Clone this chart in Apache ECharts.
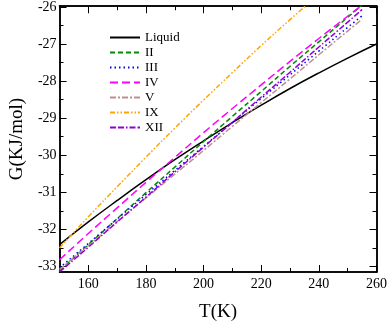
<!DOCTYPE html>
<html>
<head>
<meta charset="utf-8">
<script src="https://cdn.jsdelivr.net/npm/echarts@6/dist/echarts.min.js"></script>
<style>
  html, body { margin: 0; padding: 0; background: #fff; }
  #chart-container { width: 390px; height: 327px; }
</style>
</head>
<body>
<div id="chart-container"></div>
<script>
var dom = document.getElementById("chart-container");
var myChart = echarts.init(dom, null, { renderer: "canvas" });

// temperatures (K)
const liquidTemps = [150, 160, 170, 180, 190, 200, 210, 220, 230, 240, 250, 260];
const solidTemps = [150, 160, 170, 180, 190, 200, 210, 220, 230, 240, 250, 255];

// G (kJ/mol)
const liquidG = [-32.41, -31.80, -31.22, -30.66, -30.12, -29.61, -29.12, -28.65, -28.20, -27.78, -27.38, -27.00];
const iiG = [-33.12, -32.41, -31.71, -31.01, -30.32, -29.63, -28.95, -28.28, -27.60, -26.94, -26.28, -25.95];
const iiiG = [-33.04, -32.38, -31.72, -31.06, -30.41, -29.76, -29.11, -28.47, -27.83, -27.19, -26.55, -26.24];
const ivG = [-32.82, -32.11, -31.42, -30.73, -30.06, -29.39, -28.74, -28.10, -27.47, -26.85, -26.25, -25.95];
const vG = [-33.08, -32.44, -31.79, -31.15, -30.51, -29.87, -29.22, -28.58, -27.94, -27.29, -26.65, -26.33];
const ixG = [-32.50, -31.66, -30.85, -30.05, -29.27, -28.51, -27.77, -27.04, -26.34, -25.66, -24.99, -24.66];
const xiiG = [-33.15, -32.48, -31.80, -31.13, -30.45, -29.78, -29.11, -28.43, -27.76, -27.08, -26.41, -26.07];

// tick positions
const xMajor = [160, 180, 200, 220, 240, 260];
const xMinor = [170, 190, 210, 230, 250];
const yMajor = [-33, -32, -31, -30, -29, -28, -27, -26];
const yMinor = [-32.5, -31.5, -30.5, -29.5, -28.5, -27.5, -26.5];

const FONT = "Liberation Serif";

function pairs(xs, ys) {
  return xs.map(function (x, i) {
    return [x, ys[i]];
  });
}

function tickAxis(pos, ticks, len, isX, withLabel) {
  var ax = {
    type: "value",
    position: pos,
    min: isX ? 150 : -33.15,
    max: isX ? 260 : -25.98,
    splitLine: { show: false },
    axisLine: { show: true, lineStyle: { color: "#000", width: 1.5 } },
    axisTick: {
      show: true,
      inside: true,
      length: len,
      customValues: ticks,
      lineStyle: { color: "#000", width: 1 },
    },
    axisLabel: { show: false },
  };
  if (withLabel) {
    ax.axisLabel = {
      show: true,
      customValues: ticks,
      color: "#000",
      fontFamily: FONT,
      fontSize: 14,
      margin: isX ? 5 : 3,
    };
  }
  return ax;
}

var series = [
  { name: "Liquid", data: pairs(liquidTemps, liquidG), color: "#000000", type: "solid" },
  { name: "II", data: pairs(solidTemps, iiG), color: "#008b00", type: [5, 3] },
  { name: "III", data: pairs(solidTemps, iiiG), color: "#0000ff", type: [1.5, 3] },
  { name: "IV", data: pairs(solidTemps, ivG), color: "#ff00ff", type: [8, 4] },
  { name: "V", data: pairs(solidTemps, vG), color: "#bc8f8f", type: [6, 2, 2, 2] },
  { name: "IX", data: pairs(solidTemps, ixG), color: "#ffa500", type: [5, 2, 1.5, 2, 1.5, 2] },
  { name: "XII", data: pairs(solidTemps, xiiG), color: "#9400d3", type: [6, 2, 6, 2, 1.5, 2] },
].map(function (s) {
  return {
    name: s.name,
    type: "line",
    data: s.data,
    smooth: true,
    symbol: "none",
    clip: true,
    color: s.color,
    lineStyle: { color: s.color, width: 1.5, type: s.type },
    xAxisIndex: 0,
    yAxisIndex: 0,
  };
});

var option = {
  backgroundColor: "#ffffff",
  animation: false,
  grid: { left: 42, right: 11, top: 4, bottom: 41 },
  legend: {
    orient: "vertical",
    left: 104,
    top: 26,
    itemWidth: 30,
    itemHeight: 10,
    itemGap: 2,
    itemStyle: { opacity: 0 },
    textStyle: { fontFamily: FONT, fontSize: 13, lineHeight: 12, color: "#000" },
    data: ["Liquid", "II", "III", "IV", "V", "IX", "XII"],
  },
  xAxis: [
    Object.assign(tickAxis("bottom", xMajor, 7, true, true), {
      name: "T(K)",
      nameLocation: "middle",
      nameGap: 31,
      nameTextStyle: { fontFamily: FONT, fontSize: 19, color: "#000" },
    }),
    tickAxis("bottom", xMinor, 4, true, false),
    tickAxis("top", xMajor, 7, true, false),
    tickAxis("top", xMinor, 4, true, false),
  ],
  yAxis: [
    Object.assign(tickAxis("left", yMajor, 7, false, true), {
      name: "G(KJ/mol)",
      nameLocation: "middle",
      nameGap: 30,
      nameRotate: 90,
      nameTextStyle: { fontFamily: FONT, fontSize: 19, color: "#000" },
    }),
    tickAxis("left", yMinor, 4, false, false),
    tickAxis("right", yMajor, 7, false, false),
    tickAxis("right", yMinor, 4, false, false),
  ],
  series: series,
};

myChart.setOption(option);
window.addEventListener("resize", myChart.resize);
</script>
</body>
</html>
